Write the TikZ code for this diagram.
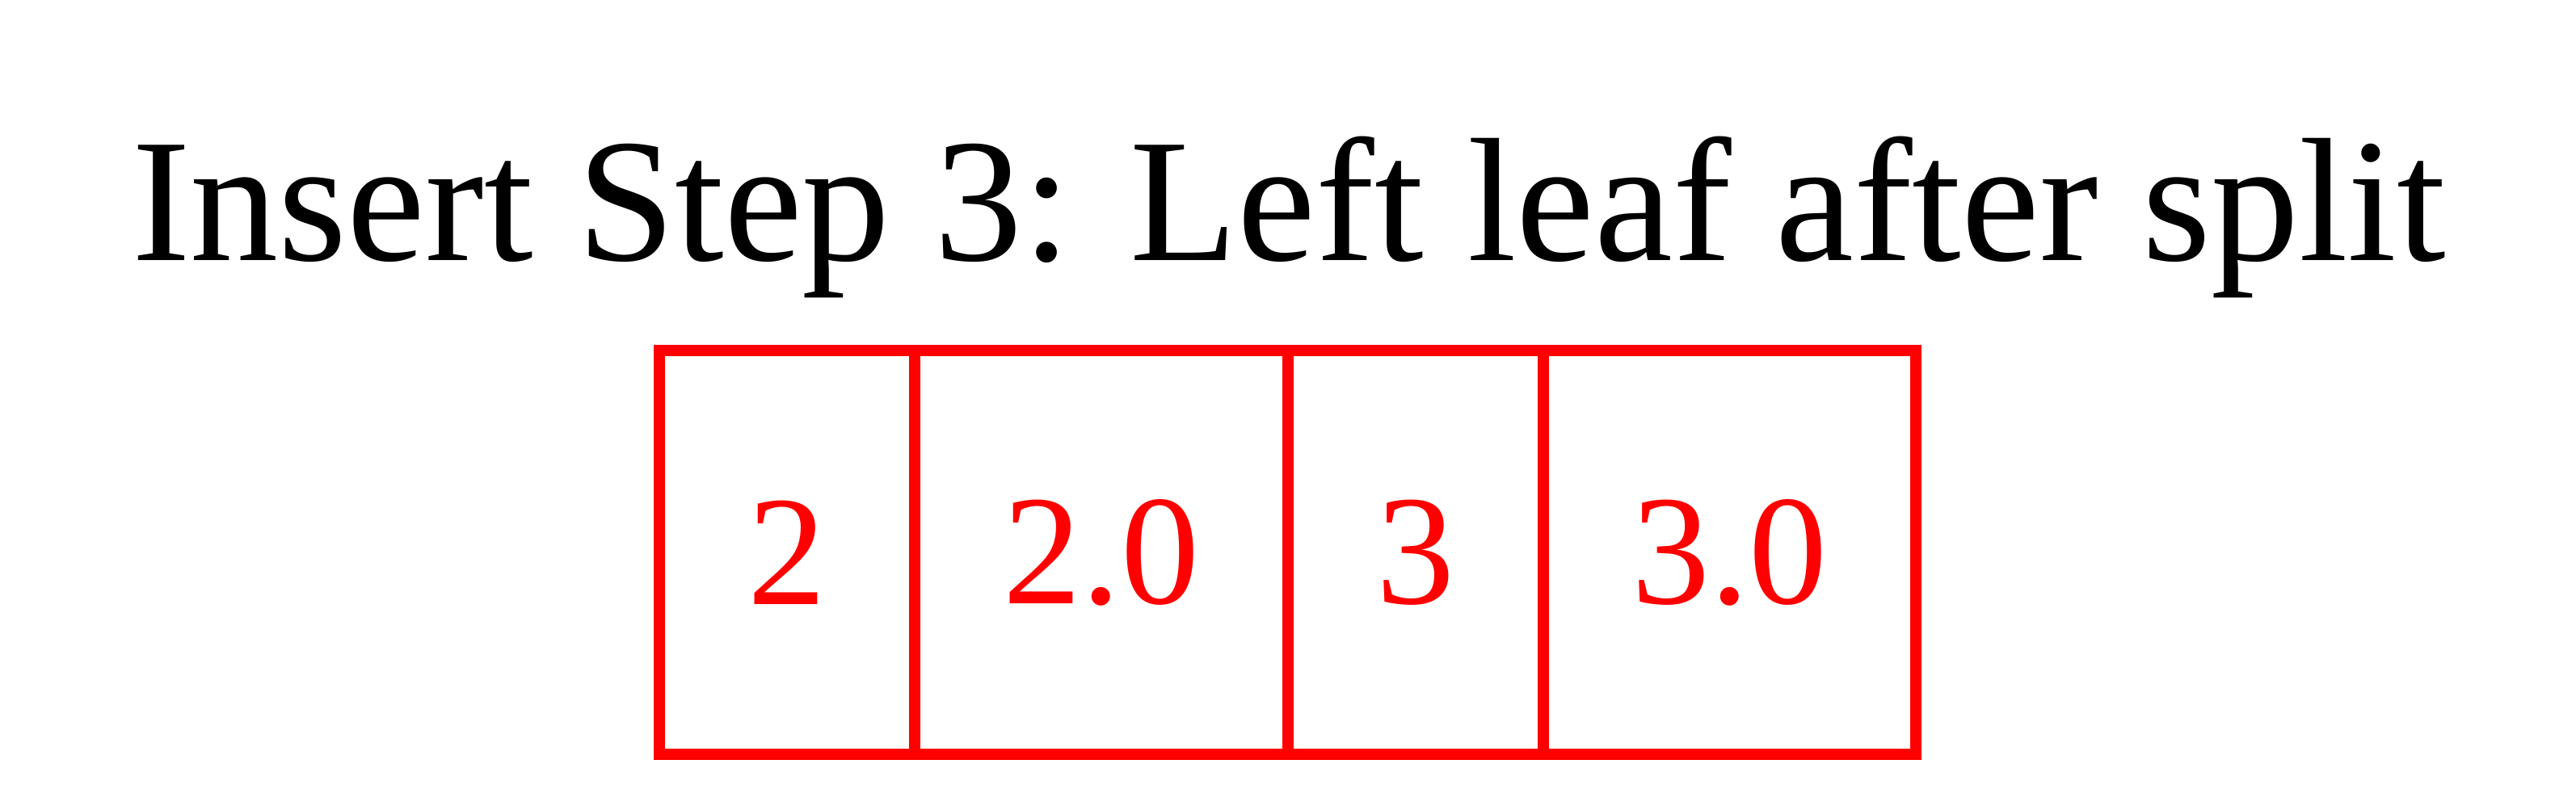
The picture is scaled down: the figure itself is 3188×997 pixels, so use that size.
\documentclass[tikz,border=0pt]{standalone}
\usepackage{fontspec}
\setmainfont{Liberation Serif}
\begin{document}
\begin{tikzpicture}[x=0.25pt,y=-0.25pt,
  cell/.style={draw=red,line width=3.5pt,text=red,inner sep=0pt,minimum height=125pt,font=\fontsize{48.5}{50}\selectfont},
  title/.style={anchor=base,inner sep=0pt,font=\fontsize{54.5}{60}\selectfont}]
\useasboundingbox[fill=white] (0,0) rectangle (3188,997);
\node[title] (t) at (1595,322) {Insert Step 3: Left leaf after split};
\node[cell,minimum width=79pt] (c1) at (974,684) {2};
\node[cell,minimum width=115.5pt] (c2) at (1363,684) {2.0};
\node[cell,minimum width=79pt] (c3) at (1752,684) {3};
\node[cell,minimum width=115.25pt] (c4) at (2140.5,684) {3.0};
\end{tikzpicture}
\end{document}
